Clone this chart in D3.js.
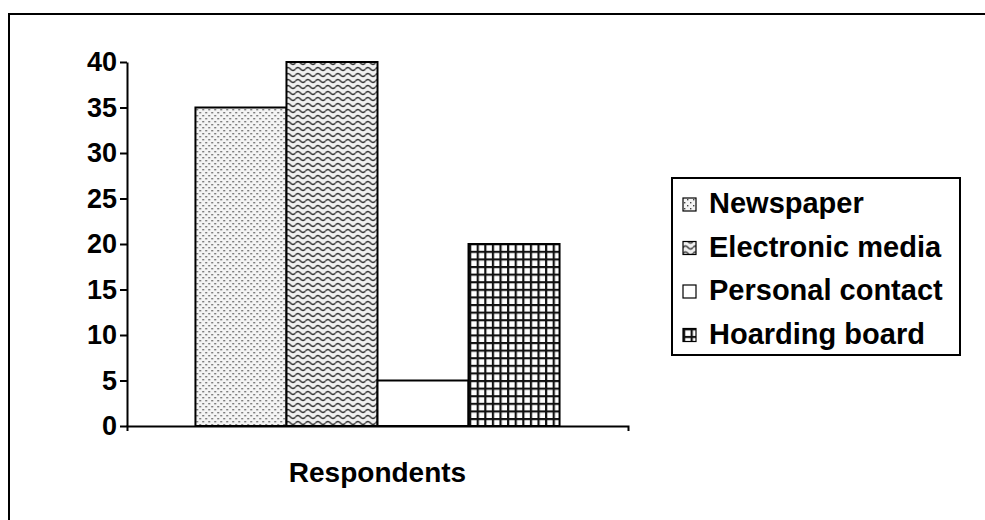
<!DOCTYPE html>
<html>
<head>
<meta charset="utf-8">
<script src="https://cdn.jsdelivr.net/npm/d3@7"></script>
<style>
  body { margin: 0; background: #fff; }
  text { font-family: "Liberation Sans", Arial, sans-serif; font-weight: bold; }
</style>
</head>
<body>
<div id="chart"></div>
<script>
const categories = ['Respondents'];
const seriesNames = ['Newspaper', 'Electronic media', 'Personal contact', 'Hoarding board'];
const seriesValues = [35, 40, 5, 20];
const yTicks = [0, 5, 10, 15, 20, 25, 30, 35, 40];
const patternIds = ['pDots', 'pWave', null, 'pGrid'];

const width = 985, height = 520;
const margin = {top: 62, left: 127, right: 357, bottom: 94};

const svg = d3.select('#chart').append('svg')
    .attr('width', width)
    .attr('height', height);

// patterns
const defs = svg.append('defs');
const dots = defs.append('pattern').attr('id', 'pDots')
    .attr('patternUnits', 'userSpaceOnUse').attr('width', 6).attr('height', 6);
dots.append('rect').attr('width', 6).attr('height', 6).attr('fill', '#f4f4f4');
dots.append('rect').attr('x', 1).attr('y', 1).attr('width', 1.4).attr('height', 1.4).attr('fill', '#444');
dots.append('rect').attr('x', 4).attr('y', 4).attr('width', 1.4).attr('height', 1.4).attr('fill', '#444');

const wave = defs.append('pattern').attr('id', 'pWave')
    .attr('patternUnits', 'userSpaceOnUse').attr('width', 10).attr('height', 6);
wave.append('rect').attr('width', 10).attr('height', 6).attr('fill', '#f0f0f0');
wave.append('path').attr('d', 'M0,3 Q2.5,0 5,3 T10,3')
    .attr('fill', 'none').attr('stroke', '#333').attr('stroke-width', 1.4);

const grid = defs.append('pattern').attr('id', 'pGrid')
    .attr('patternUnits', 'userSpaceOnUse').attr('width', 7.6).attr('height', 7.6);
grid.append('rect').attr('width', 7.6).attr('height', 7.6).attr('fill', '#fff');
grid.append('path').attr('d', 'M0,1H7.6M1,0V7.6')
    .attr('stroke', '#111').attr('stroke-width', 2.4);

// outer frame
svg.append('rect')
    .attr('x', 9).attr('y', 14)
    .attr('width', 1000).attr('height', 540)
    .attr('fill', 'none').attr('stroke', '#000').attr('stroke-width', 2);

const x0 = d3.scaleBand()
    .domain(categories)
    .range([margin.left, width - margin.right])
    .paddingOuter(0.188);

const x1 = d3.scaleBand()
    .domain(seriesNames)
    .range([0, x0.bandwidth()]);

const y = d3.scaleLinear()
    .domain([0, 40])
    .range([height - margin.bottom, margin.top]);

// bars
const groups = svg.selectAll('g.cat').data(categories).enter()
    .append('g').attr('class', 'cat')
    .attr('transform', d => `translate(${x0(d)},0)`);

groups.selectAll('rect')
    .data(seriesNames.map((n, i) => ({name: n, value: seriesValues[i], pat: patternIds[i]})))
    .join('rect')
    .attr('x', d => x1(d.name))
    .attr('y', d => y(d.value))
    .attr('width', x1.bandwidth())
    .attr('height', d => y(0) - y(d.value))
    .attr('fill', d => d.pat ? `url(#${d.pat})` : '#fff')
    .attr('stroke', '#000')
    .attr('stroke-width', 2);

// axes
const yAxis = svg.append('g')
    .attr('transform', `translate(${margin.left},0)`)
    .call(d3.axisLeft(y).tickValues(yTicks).tickSize(7).tickPadding(3).tickSizeOuter(0));
yAxis.select('.domain').attr('stroke-width', 2);
yAxis.selectAll('.tick line').attr('stroke-width', 2);
yAxis.selectAll('text').attr('font-size', 27).attr('fill', '#000');

const xAxis = svg.append('g')
    .attr('transform', `translate(0,${height - margin.bottom})`)
    .call(d3.axisBottom(x0).tickSize(0).tickSizeOuter(5).tickFormat(''));
xAxis.select('.domain').attr('stroke-width', 2);

svg.append('text')
    .attr('x', x0(categories[0]) + x0.bandwidth() / 2)
    .attr('y', 482)
    .attr('text-anchor', 'middle')
    .attr('font-size', 28)
    .text(categories[0]);

// legend
const legend = svg.append('g').attr('transform', 'translate(672,178)');
legend.append('rect')
    .attr('width', 288).attr('height', 177)
    .attr('fill', '#fff').attr('stroke', '#000').attr('stroke-width', 2);

const items = legend.selectAll('g.item')
    .data(seriesNames)
    .join('g').attr('class', 'item')
    .attr('transform', (d, i) => `translate(11,${35 + i * 43.5})`);

items.append('rect')
    .attr('x', 0).attr('y', -15)
    .attr('width', 13).attr('height', 13)
    .attr('fill', (d, i) => patternIds[i] ? `url(#${patternIds[i]})` : '#fff')
    .attr('stroke', '#000').attr('stroke-width', 1.2);

items.append('text')
    .attr('x', 26).attr('y', 0)
    .attr('font-size', 29)
    .text(d => d);
</script>
</body>
</html>
